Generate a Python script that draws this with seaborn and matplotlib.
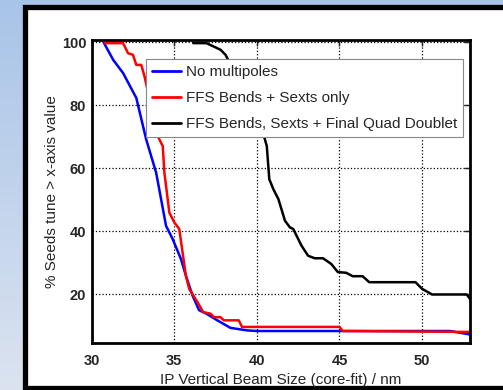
import numpy as np
import pandas as pd
import seaborn as sns
import matplotlib.pyplot as plt
from matplotlib.patches import Rectangle

# beam size (nm) vs % of seeds tuned above that value
blue_x = [30.75, 31.3, 31.9, 32.7, 33.3, 33.9, 34.5, 34.9, 35.4, 35.7, 36.1, 36.5,
          36.95, 37.6, 38.4, 39.4, 40.0, 45.0, 51.7, 52.9]
blue_y = [99.7, 94.4, 90.2, 82.3, 69.1, 58.6, 41.7, 37.5, 31.2, 25.9, 19.6, 14.9,
          13.8, 11.7, 9.3, 8.5, 8.3, 8.3, 8.3, 7.2]

red_x = [30.8, 31.9, 32.2, 32.5, 32.7, 33.0, 33.2, 33.5, 33.7, 33.9, 34.3, 34.4,
         34.7, 35.0, 35.3, 35.5, 35.7, 35.9, 36.4, 36.75, 37.2, 37.4, 37.8, 38.0,
         38.9, 39.1, 45.0, 45.2, 52.9]
red_y = [99.7, 99.7, 96.5, 96.0, 92.8, 92.8, 89.1, 82.0, 76.0, 71.2, 67.0, 58.6,
         45.9, 42.8, 40.7, 33.3, 25.9, 21.7, 17.5, 14.3, 13.8, 12.7, 12.7, 11.7,
         11.7, 9.6, 9.6, 8.3, 8.0]

black_x = [36.15, 36.95, 37.8, 38.1, 38.4, 39.0, 39.7, 40.2, 40.4, 40.6, 40.75,
           41.0, 41.3, 41.7, 42.0, 42.2, 42.7, 43.1, 43.5, 44.0, 44.5, 44.9, 45.4,
           45.8, 46.4, 46.8, 49.6, 50.0, 50.6, 52.7, 52.9]
black_y = [99.7, 99.7, 97.6, 96.0, 93.0, 88.0, 80.0, 74.0, 70.7, 67.0, 56.5,
           53.3, 50.2, 43.3, 41.2, 40.7, 35.4, 32.2, 31.4, 31.4, 29.6, 27.0, 26.8,
           25.7, 25.7, 23.8, 23.8, 21.7, 19.9, 19.9, 18.5]

labels = ["No multipoles", "FFS Bends + Sexts only",
          "FFS Bends, Sexts + Final Quad Doublet"]
colors = ["#0000ff", "#ff0000", "#000000"]

sns.set_style("white")
plt.rcParams['font.family'] = ['Liberation Sans', 'DejaVu Sans']

fig = plt.figure(figsize=(5.03, 3.90), dpi=100)

# slide background: blue gradient with white panel
bg = fig.add_axes([0, 0, 1, 1], zorder=-10)
grad = np.linspace(0, 1, 256).reshape(-1, 1)
top_c = np.array([0.66, 0.77, 0.91])
bot_c = np.array([0.86, 0.89, 0.94])
img = top_c + (bot_c - top_c) * grad[:, :, None]
bg.imshow(img, aspect='auto', extent=[0, 1, 0, 1], origin='upper')
bg.set_axis_off()
bg.add_patch(Rectangle((24.5 / 503, 2 / 390), 1.2, 1 - 8.5 / 390,
                       transform=bg.transAxes, facecolor='white',
                       edgecolor='black', linewidth=3.8, clip_on=True))

ax = fig.add_axes([91.7 / 503, 1 - 343.3 / 390, (470 - 91.7) / 503, (343.3 - 40) / 390])

for xs, ys, lab, c in zip([blue_x, red_x, black_x], [blue_y, red_y, black_y], labels, colors):
    df = pd.DataFrame({"x": xs, "y": ys})
    sns.lineplot(data=df, x="x", y="y", color=c, linewidth=1.8, label=lab,
                 sort=False, estimator=None, ax=ax)

ax.set_xlim(30, 52.9)
ax.set_ylim(4.4, 100.7)
ax.set_xticks([30, 35, 40, 45, 50])
ax.set_yticks([20, 40, 60, 80, 100])
ax.grid(True, color='black', linestyle=':', linewidth=0.9)
ax.tick_params(direction='in', length=4, width=1, top=True, right=True,
               labelsize=10.5)
ax.tick_params(axis='y', pad=4)
ax.tick_params(axis='x', pad=8)
for t in ax.get_xticklabels() + ax.get_yticklabels():
    t.set_fontweight('bold')
for s in ax.spines.values():
    s.set_linewidth(2)
    s.set_color('black')

ax.set_xlabel("IP Vertical Beam Size (core-fit) / nm", fontsize=11, labelpad=3)
ax.set_ylabel("% Seeds tune > x-axis value", fontsize=11, labelpad=2)

leg = ax.legend(loc='upper left', bbox_to_anchor=(0.143, 0.938), fontsize=11,
                fancybox=False, framealpha=1, edgecolor='#888888',
                handlelength=1.9, borderpad=0.42, labelspacing=0.78,
                handletextpad=0.3, borderaxespad=0)
leg.get_frame().set_linewidth(0.8)
for line in leg.get_lines():
    line.set_linewidth(2)

fig.savefig("out.png", dpi=100)
